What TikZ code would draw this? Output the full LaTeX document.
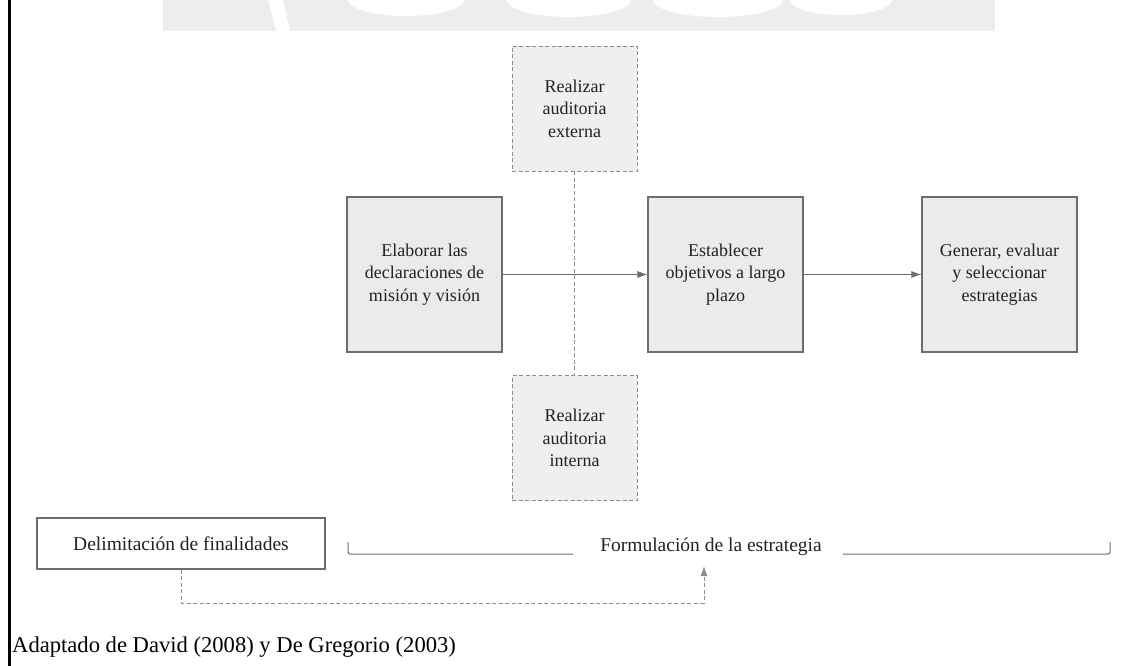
\documentclass[tikz,border=0pt]{standalone}
\usepackage{fontspec}
\setmainfont{Liberation Serif}
\usetikzlibrary{arrows.meta}

\definecolor{boxfill}{HTML}{EBEBEB}
\definecolor{auditfill}{HTML}{EFEFEF}
\definecolor{boxline}{HTML}{6E6E6E}
\definecolor{dashline}{HTML}{8C8C8C}
\definecolor{textcol}{HTML}{222222}
\definecolor{markfill}{HTML}{EDEDED}

\tikzset{
  txt/.style={font=\fontsize{18}{22.5}\selectfont, text=textcol, align=center, inner sep=0pt},
  mainbox/.style={txt, draw=boxline, line width=1.1pt, fill=boxfill,
                  minimum width=155pt, minimum height=155pt},
  auditbox/.style={txt, draw=dashline, line width=0.9pt, dash pattern=on 4pt off 2.5pt,
                   fill=auditfill, minimum width=125pt, minimum height=125pt},
  phasebox/.style={txt, font=\fontsize{19.5}{23}\selectfont, draw=boxline, line width=1.1pt,
                   fill=white, minimum width=288pt, minimum height=51pt},
  tip/.style={-{Latex[length=10pt,width=7pt]}},
  flow/.style={draw=boxline, line width=0.9pt, tip},
  dashlink/.style={draw=dashline, line width=0.9pt, dash pattern=on 4pt off 2.5pt},
  bracketline/.style={draw=boxline, line width=1pt, rounded corners=2pt},
}

\begin{document}
\begin{tikzpicture}[x=1pt, y=-1pt]
  \useasboundingbox (0,0) rectangle (1137,666);

  % faint banner strip along the top edge
  \begin{scope}
    \clip (163,0) rectangle (995,31);
    \fill[markfill] (163,0) rectangle (995,31);
    \fill[white] (268,0) -- (283,0) -- (290,31) -- (276,31) -- cycle;
    \fill[white] (406,0) ellipse [x radius=58, y radius=16];
    \fill[white] (569,0) ellipse [x radius=62, y radius=17];
    \fill[white] (718,0) ellipse [x radius=65, y radius=17];
    \fill[white] (841,0) ellipse [x radius=51, y radius=15];
  \end{scope}

  % left margin rule
  \draw[black, line width=2.7pt] (9.7,0) -- (9.7,666);

  % main sequence
  \node[mainbox] (mision) at (424.5,274.5) {Elaborar las\\declaraciones de\\misión y visión};
  \node[mainbox] (objetivos) at (725.5,274.5) {Establecer\\objetivos a largo\\plazo};
  \node[mainbox] (estrategias) at (999.5,274.5) {Generar, evaluar\\y seleccionar\\estrategias};

  % audits
  \node[auditbox] (externa) at (574.5,108.5) {Realizar\\auditoria\\externa};
  \node[auditbox] (interna) at (574.5,438) {Realizar\\auditoria\\interna};

  \path[dashlink] (externa.south) -- (interna.north);

  \draw[flow] (mision.east) -- (objetivos.west);
  \draw[flow] (objetivos.east) -- (estrategias.west);

  % phases
  \node[phasebox] (delim) at (181,543.5) {Delimitación de finalidades};
  \node[txt, font=\fontsize{19.5}{23}\selectfont] (form) at (711,547) {Formulación de la estrategia};

  \draw[bracketline] (348,542) -- (348,554) -- (573,554);
  \draw[bracketline] (843,554) -- (1110,554) -- (1110,542);

  \coordinate (low) at (0,603);
  \coordinate (end) at (704,566);
  \draw[dashlink, tip] (delim.south) -- (delim.south |- low) -| (end);

  % source note
  \node[anchor=west, inner sep=0pt, font=\fontsize{22.6}{27}\selectfont] (fuente)
    at (12,647) {Adaptado de David (2008) y De Gregorio (2003)};
\end{tikzpicture}
\end{document}
